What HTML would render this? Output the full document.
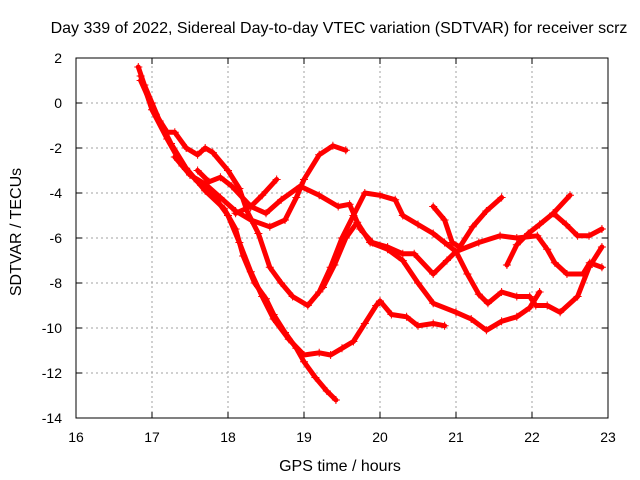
<!DOCTYPE html>
<html><head><meta charset="utf-8"><style>
body{margin:0;background:#fff}
svg{display:block;font-family:"Liberation Sans",sans-serif}
</style></head><body>
<svg id="chart" width="640" height="480" viewBox="0 0 640 480">
<rect width="640" height="480" fill="#fff"/>
<text x="339" y="33" font-size="16" text-anchor="middle">Day 339 of 2022, Sidereal Day-to-day VTEC variation (SDTVAR) for receiver scrz</text>
<text x="340" y="471" font-size="16" text-anchor="middle">GPS time / hours</text>
<text transform="translate(21,232) rotate(-90)" font-size="16" text-anchor="middle">SDTVAR / TECUs</text>
<g id="grid"></g>
<g id="series"></g>
<rect x="76" y="58" width="532" height="360" fill="none" stroke="#000" stroke-width="1"/>
<g id="ticks"></g>
</svg>
<script>
const xTicks=[16,17,18,19,20,21,22,23];
const yTicks=[2,0,-2,-4,-6,-8,-10,-12,-14];
const sA=[[16.82,1.6],[16.9,0.8],[17.0,0],[17.1,-0.8],[17.25,-1.8],[17.45,-2.9],[17.7,-3.9],[17.95,-4.7],[18.1,-5.6],[18.2,-6.8],[18.35,-8],[18.5,-8.7],[18.6,-9.4],[18.75,-10.2],[18.9,-10.9],[19.0,-11.5],[19.15,-12.2],[19.3,-12.8],[19.42,-13.2]];
const sB=[[16.85,1.2],[17.0,-0.3],[17.2,-1.6],[17.4,-2.8],[17.6,-3.5],[17.85,-4.3],[18.0,-5.0],[18.15,-6.2],[18.3,-7.5],[18.45,-8.6],[18.6,-9.6],[18.8,-10.5],[19.0,-11.2],[19.2,-11.1],[19.35,-11.2],[19.5,-10.9],[19.65,-10.6],[19.8,-9.8],[19.95,-9.0],[20.0,-8.8],[20.15,-9.4],[20.35,-9.5],[20.5,-9.9],[20.7,-9.8],[20.85,-9.9]];
const sC=[[16.85,1.0],[17.05,-0.5],[17.2,-1.3],[17.3,-1.3],[17.45,-2.0],[17.6,-2.3],[17.7,-2.0],[17.8,-2.2],[18.0,-3.0],[18.15,-3.8],[18.25,-4.8],[18.4,-5.8],[18.55,-7.3],[18.7,-8.0],[18.85,-8.6],[19.05,-9.0],[19.2,-8.4],[19.35,-7.3],[19.5,-6.0],[19.65,-5.0],[19.8,-4.0],[20.0,-4.1],[20.2,-4.3],[20.3,-5.0],[20.5,-5.4],[20.7,-5.8],[20.85,-6.2],[21.0,-6.6],[21.15,-7.6],[21.3,-8.5],[21.42,-8.9],[21.6,-8.4],[21.8,-8.6],[21.97,-8.6],[22.05,-9.0],[22.2,-9.0],[22.37,-9.3],[22.6,-8.6],[22.75,-7.3],[22.92,-6.4]];
const sD=[[17.3,-2.4],[17.5,-3.2],[17.7,-3.6],[17.9,-4.2],[18.1,-4.8],[18.3,-5.2],[18.55,-5.5],[18.75,-5.2],[18.9,-4.2],[19.0,-3.4],[19.2,-2.3],[19.38,-1.9],[19.55,-2.1]];
const sE=[[18.1,-4.9],[18.3,-4.6],[18.45,-4.1],[18.64,-3.4]];
const sF=[[17.6,-3.0],[17.75,-3.5],[17.9,-3.3],[18.05,-3.7],[18.3,-4.6],[18.5,-4.9],[18.7,-4.3],[18.95,-3.7],[19.2,-4.1],[19.45,-4.6],[19.6,-4.5],[19.74,-5.6],[19.9,-6.2],[20.1,-6.4],[20.3,-6.7],[20.45,-6.7],[20.7,-7.6],[20.88,-7.0],[21.0,-6.6],[21.3,-6.2],[21.58,-5.9],[21.8,-6.0],[22.07,-5.9],[22.2,-6.5],[22.3,-7.1],[22.46,-7.6],[22.67,-7.6],[22.76,-7.1],[22.92,-7.3]];
const sG=[[19.25,-8.2],[19.4,-7.2],[19.55,-6.0],[19.7,-5.3],[19.87,-6.2],[20.1,-6.5],[20.3,-7.0],[20.5,-8.0],[20.7,-8.9],[21.0,-9.3],[21.2,-9.6],[21.4,-10.1],[21.6,-9.7],[21.8,-9.5],[21.97,-9.1],[22.1,-8.4]];
const sH=[[20.7,-4.6],[20.85,-5.2],[20.95,-6.2],[21.05,-6.4],[21.22,-5.5],[21.4,-4.8],[21.6,-4.2]];
const sI=[[21.67,-7.2],[21.8,-6.3],[21.95,-5.8],[22.1,-5.4],[22.28,-4.9],[22.5,-4.1]];
const sJ=[[22.28,-4.9],[22.45,-5.4],[22.6,-5.9],[22.75,-5.9],[22.92,-5.6]];
const allSeries=[sA,sB,sC,sD,sE,sF,sG,sH,sI,sJ];

const NS="http://www.w3.org/2000/svg";
const X0=76,X1=608,Y0=418,Y1=58,XMIN=16,XMAX=23,YMIN=-14,YMAX=2;
function xs(v){return X0+(v-XMIN)/(XMAX-XMIN)*(X1-X0);}
function ys(v){return Y0-(v-YMIN)/(YMAX-YMIN)*(Y0-Y1);}
function mk(tag,attrs,parent){const e=document.createElementNS(NS,tag);for(const k in attrs)e.setAttribute(k,attrs[k]);parent.appendChild(e);return e;}
const grid=document.getElementById('grid'),ticks=document.getElementById('ticks'),ser=document.getElementById('series');
xTicks.forEach(t=>{
  const x=xs(t);
  if(t>XMIN&&t<XMAX){const g=mk('line',{x1:x,x2:x,y1:Y0,y2:Y1,stroke:'#a0a0a0','stroke-dasharray':'2,3'},grid);
  
  }
  const a=mk('line',{x1:x,x2:x,y1:Y0,y2:Y0-6,stroke:'#000'},ticks);
  
  
  const b=mk('line',{x1:x,x2:x,y1:Y1,y2:Y1+6,stroke:'#000'},ticks);
  
  
  const l=mk('text',{x:x,y:Y0+24,'font-size':14,'text-anchor':'middle'},ticks);l.textContent=t;
  
  
});
yTicks.forEach(t=>{
  const y=ys(t);
  if(t>YMIN&&t<YMAX){const g=mk('line',{x1:X0,x2:X1,y1:y,y2:y,stroke:'#a0a0a0','stroke-dasharray':'2,3'},grid);
  
  }
  const a=mk('line',{x1:X0,x2:X0+6,y1:y,y2:y,stroke:'#000'},ticks);
  
  
  const b=mk('line',{x1:X1,x2:X1-6,y1:y,y2:y,stroke:'#000'},ticks);
  
  
  const l=mk('text',{x:X0-14,y:y+5,'font-size':14,'text-anchor':'end'},ticks);l.textContent=t;
  
  
});
allSeries.forEach((s,i)=>{
  const pts=s.map(p=>xs(p[0]).toFixed(1)+','+ys(p[1]).toFixed(1)).join(' ');
  const pl=mk('polyline',{points:pts,fill:'none',stroke:'#ff0000','stroke-width':5,'stroke-linejoin':'round','stroke-linecap':'round'},ser);
  
  
  s.forEach(p=>{
    const x=xs(p[0]),y=ys(p[1]);
    const m=mk('path',{d:`M${x-4},${y}H${x+4}M${x},${y-4}V${y+4}`,stroke:'#ff0000','stroke-width':1},ser);
    
    
  });
});
</script>
</body></html>
